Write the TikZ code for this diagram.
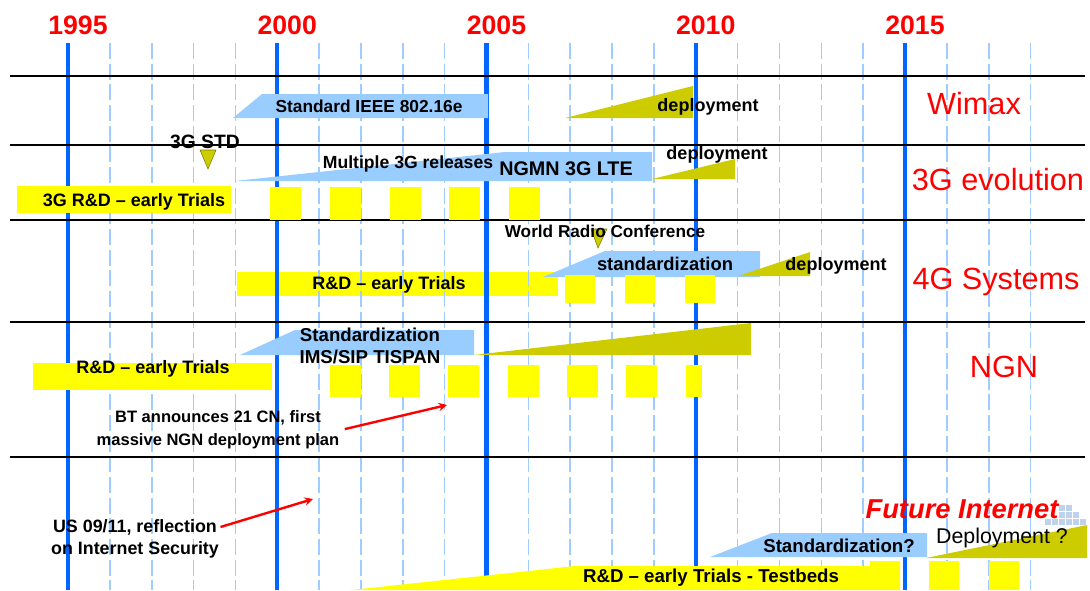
\documentclass[tikz,border=0pt]{standalone}
\usepackage{fontspec}
\setmainfont{Liberation Sans}
\usepackage{xcolor}
\definecolor{yearblue}{RGB}{0,102,255}
\definecolor{gridblue}{RGB}{160,205,255}
\definecolor{stdblue}{RGB}{153,204,255}
\definecolor{depolive}{RGB}{204,204,0}
\definecolor{trialyellow}{RGB}{255,255,0}
\definecolor{logogrey}{RGB}{190,210,235}

\begin{document}
\begin{tikzpicture}[x=0.75pt, y=-0.75pt, >=stealth,
    minor/.style = {gridblue, line width=1.2pt, dash pattern=on 12pt off 3.5pt},
    major/.style = {yearblue, line width=3.2pt},
    rowsep/.style = {line width=0.9pt},
    yearlbl/.style = {red, font=\bfseries\fontsize{20}{24}\selectfont},
    field/.style = {red, font=\fontsize{23}{28}\selectfont},
    lbl/.style = {font=\bfseries\fontsize{13.5}{16.5}\selectfont, inner sep=1pt, align=center},
    std/.style = {fill=stdblue},
    dep/.style = {fill=depolive},
    trial/.style = {fill=trialyellow},
    marker/.style = {fill=depolive, draw=depolive!60!black, line width=0.4pt},
    event/.style = {red, line width=1.8pt, ->}]

    \useasboundingbox (0,0) rectangle (1090,590);

    \fill[trial] (237,272) rectangle (558,296);

    \foreach \yr in {1996,...,2018}
        \draw[minor] ({68+(\yr-1995)*41.85},43) -- ({68+(\yr-1995)*41.85},590);
    \foreach \yr in {1995,2000,...,2015} {
        \draw[major] ({68+(\yr-1995)*41.85},43) -- ({68+(\yr-1995)*41.85},590);
        \node[yearlbl] (y\yr) at ({78+(\yr-1995)*41.85},25) {\yr};
    }
    \foreach \h in {76,145,220,322,457}
        \draw[rowsep] (10,\h) -- (1085,\h);

    \fill[std] (233,118) -- (262,94) -- (488,94) -- (488,118) -- cycle;
    \fill[dep] (565,118) -- (693,86) -- (693,118) -- cycle;
    \filldraw[marker] (200,150) -- (216,150) -- (208,169) -- cycle;

    \fill[std] (235,181) -- (505,152) -- (652,152) -- (652,181) -- cycle;
    \fill[dep] (652,179) -- (735,159) -- (735,179) -- cycle;
    \fill[trial] (17,186) rectangle (231,213);
    \foreach \x in {270,330,390,449,509}
        \fill[trial] (\x,187) rectangle ++(31,33);

    \filldraw[marker] (591,229) -- (607,229) -- (598,248) -- cycle;
    \fill[std] (543,277) -- (605,251) -- (760,251) -- (760,277) -- cycle;
    \fill[dep] (738,276) -- (810,252) -- (810,276) -- cycle;
    \foreach \x in {565,625,685}
        \fill[trial] (\x,275) rectangle ++(30,28);

    \fill[std] (240,355) -- (295,330) -- (474,330) -- (474,355) -- cycle;
    \fill[dep] (474,355) -- (751,323) -- (751,355) -- cycle;
    \fill[trial] (33,363) rectangle (272,390);
    \foreach \x in {330,389,448,508,567,626}
        \fill[trial] (\x,365) rectangle ++(31,32);
    \fill[trial] (686,365) rectangle (702,397);

    \foreach \sx/\sy in {1059/505,1066/505,1059/512,1066/512,1073/512,1045/519,1052/519,1059/519,1066/519,1073/519,1080/519}
        \fill[logogrey] (\sx,\sy) rectangle ++(6,6);
    \fill[trial] (351,590) -- (575,566) -- (870,566) -- (870,561) -- (900,561) -- (900,590) -- cycle;
    \fill[trial] (929,561) rectangle ++(30,29);
    \fill[trial] (989,561) rectangle ++(30,29);
    \fill[std] (710,557) -- (772,533) -- (927,533) -- (927,557) -- cycle;
    \fill[dep] (926,558) -- (1087,525) -- (1087,558) -- cycle;

    \node[field] (wimax) at (974,104) {Wimax};
    \node[field] (evo) at (998,180) {3G evolution};
    \node[field] (sys4g) at (996,282) {4G Systems};
    \node[field] (ngn) at (1004,367) {NGN};
    \node[red, font=\bfseries\itshape\fontsize{20.5}{24}\selectfont] (fi) at (962,509) {Future Internet};

    \node[lbl, font=\bfseries\fontsize{13}{16}\selectfont] (ieee) at (369,106) {Standard IEEE 802.16e};
    \node[lbl] (dep1) at (708,107) {deployment};
    \node[lbl, font=\bfseries\fontsize{14.5}{17}\selectfont] (std3g) at (205,142) {3G STD};

    \node[lbl, font=\bfseries\fontsize{13.2}{16}\selectfont] (rel) at (408,164) {Multiple 3G releases};
    \node[lbl, font=\bfseries\fontsize{14.8}{18}\selectfont] (lte) at (566,169) {NGMN 3G LTE};
    \node[lbl] (dep2) at (717,155) {deployment};
    \node[lbl] (rd3g) at (134,202) {3G R\&D – early Trials};

    \node[lbl, font=\bfseries\fontsize{12.9}{16}\selectfont] (wrc) at (605,231) {World Radio Conference};
    \node[lbl, font=\bfseries\fontsize{13.8}{17}\selectfont] (stdz) at (665,264) {standardization};
    \node[lbl] (dep3) at (836,266) {deployment};
    \node[lbl] (rd4g) at (389,285) {R\&D – early Trials};

    \node[lbl, font=\bfseries\fontsize{14}{16.5}\selectfont] (ims) at (370,346) {Standardization\\IMS/SIP TISPAN};
    \node[lbl] (rdngn) at (153,369) {R\&D – early Trials};
    \node[lbl, font=\bfseries\fontsize{12.4}{17.2}\selectfont] (bt) at (218,430) {BT announces 21 CN, first\\massive NGN deployment plan};
    \coordinate (btend) at (447,405);
    \draw[event, shorten <=3pt] (bt.east) -- (btend);

    \node[lbl, font=\bfseries\fontsize{13.4}{16.5}\selectfont] (us) at (135,539) {US 09/11, reflection\\on Internet Security};
    \coordinate (usend) at (313,499);
    \draw[event] ([yshift=9pt]us.east) -- (usend);
    \node[lbl, font=\bfseries\fontsize{14}{17}\selectfont] (rdfi) at (711,578) {R\&D – early Trials - Testbeds};
    \node[lbl, font=\bfseries\fontsize{14}{17}\selectfont] (stdfi) at (839,546) {Standardization?};
    \node[lbl, font=\fontsize{16}{19}\selectfont] (depfi) at (1002,538) {Deployment ?};
\end{tikzpicture}
\end{document}
